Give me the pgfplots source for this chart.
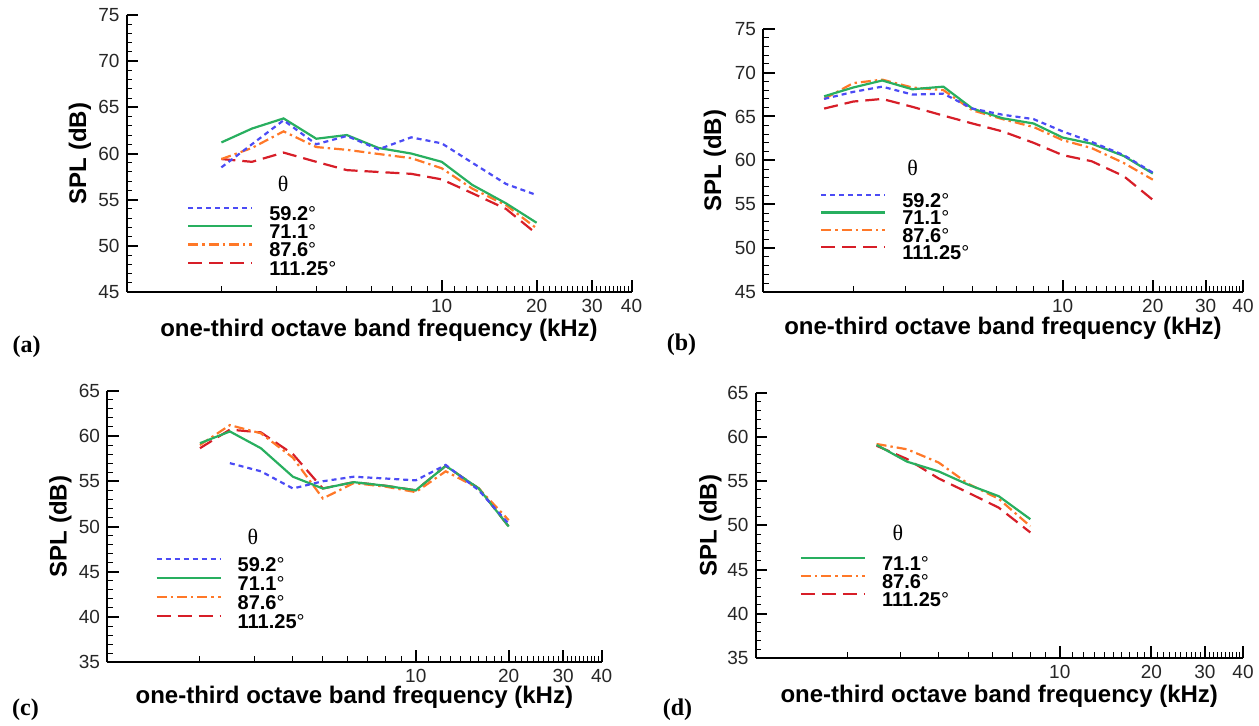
\documentclass[border=0pt]{standalone}
\usepackage{fontspec}
\setmainfont{Liberation Sans}
\newfontfamily\seriffont{Liberation Serif}
\usepackage{pgfplots}
\usepackage{pgfplotstable}
\pgfplotsset{compat=1.18}

\definecolor{cblue}{RGB}{75,75,245}
\definecolor{cgreen}{RGB}{40,175,95}
\definecolor{corange}{RGB}{255,120,40}
\definecolor{cred}{RGB}{215,30,40}

\pgfplotstableread{
f b g o r
2    58.5  61.2 59.4  59.4
2.5  61.0  62.7 60.6  59.1
3.15 63.6  63.8 62.4  60.1
4    61.0  61.6 60.7  59.1
5    61.9  62.0 60.4  58.2
6.3  60.45 60.6 59.95 58.0
8    61.75 60.0 59.5  57.8
10   61.1  59.1 58.4  57.2
12.5 59.0  56.6 56.2  55.7
16   56.7  54.6 54.4  54.0
20   55.5  52.5 51.9  51.3
}\dataA

\pgfplotstableread{
f b g o r
1.6  67.0 67.3 67.0 65.9
2    67.8 68.3 68.8 66.7
2.5  68.4 69.1 69.2 67.0
3.15 67.5 68.1 68.3 66.1
4    67.6 68.4 68.0 65.1
5    65.9 65.9 65.7 64.2
6.3  65.2 64.8 64.7 63.3
8    64.7 64.2 63.8 62.0
10   63.3 62.6 62.3 60.6
12.5 62.1 61.9 61.4 59.9
16   60.6 60.5 59.7 58.2
20   58.6 58.5 57.8 55.5
}\dataB

\pgfplotstableread{
f g o r
2    59.2  59.0 58.65
2.5  60.5  61.2 60.7
3.15 58.65 60.3 60.4
4    55.5  57.6 58.0
5    54.2  53.1 54.2
6.3  54.9  54.8 54.9
8    54.5  54.4 54.5
10   54.0  53.8 54.0
12.5 56.7  56.1 56.7
16   54.2  54.2 54.2
20   50.0  50.7 50.0
}\dataC

\pgfplotstableread{
f b
2.5  57.0
3.15 56.1
4    54.2
5    55.0
6.3  55.5
8    55.3
10   55.1
12.5 56.8
16   54.0
20   50.3
}\dataCblue

\pgfplotstableread{
f g o r
2.5  59.1 59.2 59.0
3.15 57.2 58.6 57.5
4    56.1 57.1 55.3
5    54.6 54.7 53.7
6.3  53.3 53.0 52.0
8    50.7 49.9 49.2
}\dataD

\tikzset{
  sblue/.style={cblue, line width=1.1pt, dash pattern=on 2.5pt off 2pt},
  sgreen/.style={cgreen, line width=1.1pt, solid},
  sorange/.style={corange, line width=1.1pt, dash pattern=on 5pt off 2pt on 1.2pt off 2pt},
  sred/.style={cred, line width=1.1pt, dash pattern=on 7pt off 3.5pt},
}
\newcommand{\dg}{{\mdseries°}}
\pgfplotsset{
  legend image code/.code={\draw[#1] (0pt,2.6pt) -- (32pt,2.6pt);},
  mypanel/.style={
    scale only axis, xmin=1, xmax=40, enlargelimits=false,
    axis lines=left, axis line style={-, line width=1pt, black},
    tick align=inside,
    xtick={10,20,30,40}, xticklabels={10,20,30,40},
    minor xtick={2,3,4,5,6,7,8,9,11,12,13,14,15,16,17,18,19,21,22,23,24,25,26,27,28,29,31,32,33,34,35,36,37,38,39},
    ytick distance=5, minor y tick num=4,
    major tick length=6pt, minor tick length=3pt,
    major tick style={line width=1pt, black},
    minor tick style={line width=0.5pt, black},
    /pgf/number format/assume math mode=true,
    tick label style={font=\fontsize{9.5}{11}\selectfont, text=black!85},
    xlabel={one-third octave band frequency (kHz)},
    ylabel={SPL (dB)},
    label style={font=\bfseries\fontsize{12}{14}\selectfont},
    legend cell align=left,
    legend style={draw=none, fill=none, inner sep=0pt, outer sep=0pt, anchor=north west,
      font=\bfseries\fontsize{10}{11}\selectfont, column sep=8pt, row sep=0pt},
    anchor=south west,
  },
}

\begin{document}
\begin{tikzpicture}
\useasboundingbox (0pt,0pt) rectangle (629.5pt,-362.5pt);

% (a)
\begin{axis}[xmode=log, mypanel, at={(63.25pt,-146pt)}, width=252.5pt, height=138.5pt, ymin=45, ymax=75,
  xlabel style={at={(axis description cs:0.5,-0.137)}, anchor=center},
  ylabel style={at={(axis description cs:-0.092,0.5)}, anchor=center},
  legend style={at={(0.12,0.318)}, nodes={inner sep=0pt, text height=8.2pt, text depth=0.95pt}}]
\addlegendimage{sblue}\addlegendentry{59.2\dg}
\addlegendimage{sgreen}\addlegendentry{71.1\dg}
\addlegendimage{sorange}\addlegendentry{87.6\dg}
\addlegendimage{sred}\addlegendentry{111.25\dg}
\addplot[sred, forget plot] table[x=f,y=r] {\dataA};
\addplot[sorange, forget plot] table[x=f,y=o] {\dataA};
\addplot[sgreen, forget plot] table[x=f,y=g] {\dataA};
\addplot[sblue, forget plot] table[x=f,y=b] {\dataA};
\node[font=\seriffont\fontsize{11}{12}\selectfont] at (rel axis cs:0.31,0.391) {θ};
\end{axis}

% (b)
\begin{axis}[xmode=log, mypanel, at={(381.5pt,-146pt)}, width=240pt, height=131.65pt, ymin=45, ymax=75,
  xlabel style={at={(axis description cs:0.5,-0.137)}, anchor=center},
  ylabel style={at={(axis description cs:-0.1,0.5)}, anchor=center},
  legend style={at={(0.119,0.38)}, nodes={inner sep=0pt, text height=7.9pt, text depth=0.7pt}}]
\addlegendimage{sblue}\addlegendentry{59.2\dg}
\addlegendimage{sgreen}\addlegendentry{71.1\dg}
\addlegendimage{sorange}\addlegendentry{87.6\dg}
\addlegendimage{sred}\addlegendentry{111.25\dg}
\addplot[sred, forget plot] table[x=f,y=r] {\dataB};
\addplot[sorange, forget plot] table[x=f,y=o] {\dataB};
\addplot[sgreen, forget plot] table[x=f,y=g] {\dataB};
\addplot[sblue, forget plot] table[x=f,y=b] {\dataB};
\node[font=\seriffont\fontsize{11}{12}\selectfont] at (rel axis cs:0.312,0.470) {θ};
\end{axis}

% (c)
\begin{axis}[xmode=log, mypanel, at={(53.5pt,-331.15pt)}, width=247.35pt, height=135.8pt, ymin=35, ymax=65,
  xlabel style={at={(axis description cs:0.5,-0.127)}, anchor=center},
  ylabel style={at={(axis description cs:-0.094,0.5)}, anchor=center},
  legend style={at={(0.098,0.398)}, nodes={inner sep=0pt, text height=8.4pt, text depth=1.2pt}}]
\addlegendimage{sblue}\addlegendentry{59.2\dg}
\addlegendimage{sgreen}\addlegendentry{71.1\dg}
\addlegendimage{sorange}\addlegendentry{87.6\dg}
\addlegendimage{sred}\addlegendentry{111.25\dg}
\addplot[sred, forget plot] table[x=f,y=r] {\dataC};
\addplot[sorange, forget plot] table[x=f,y=o] {\dataC};
\addplot[sgreen, forget plot] table[x=f,y=g] {\dataC};
\addplot[sblue, forget plot] table[x=f,y=b] {\dataCblue};
\node[font=\seriffont\fontsize{11}{12}\selectfont] at (rel axis cs:0.295,0.462) {θ};
\end{axis}

% (d)
\begin{axis}[xmode=log, mypanel, at={(377.75pt,-329pt)}, width=243.75pt, height=132.65pt, ymin=35, ymax=65,
  xlabel style={at={(axis description cs:0.5,-0.146)}, anchor=center},
  ylabel style={at={(axis description cs:-0.0925,0.5)}, anchor=center},
  legend style={at={(0.091,0.39)}, nodes={inner sep=0pt, text height=8.1pt, text depth=0.9pt}}]
\addlegendimage{sgreen}\addlegendentry{71.1\dg}
\addlegendimage{sorange}\addlegendentry{87.6\dg}
\addlegendimage{sred}\addlegendentry{111.25\dg}
\addplot[sred, forget plot] table[x=f,y=r] {\dataD};
\addplot[sorange, forget plot] table[x=f,y=o] {\dataD};
\addplot[sgreen, forget plot] table[x=f,y=g] {\dataD};
\node[font=\seriffont\fontsize{11}{12}\selectfont] at (rel axis cs:0.292,0.470) {θ};
\end{axis}

\node[font=\seriffont\bfseries\fontsize{12}{14}\selectfont] at (13.25pt,-173.3pt) {(a)};
\node[font=\seriffont\bfseries\fontsize{12}{14}\selectfont] at (340.75pt,-172.5pt) {(b)};
\node[font=\seriffont\bfseries\fontsize{12}{14}\selectfont] at (12.75pt,-355pt) {(c)};
\node[font=\seriffont\bfseries\fontsize{12}{14}\selectfont] at (338.75pt,-355pt) {(d)};
\end{tikzpicture}
\end{document}
